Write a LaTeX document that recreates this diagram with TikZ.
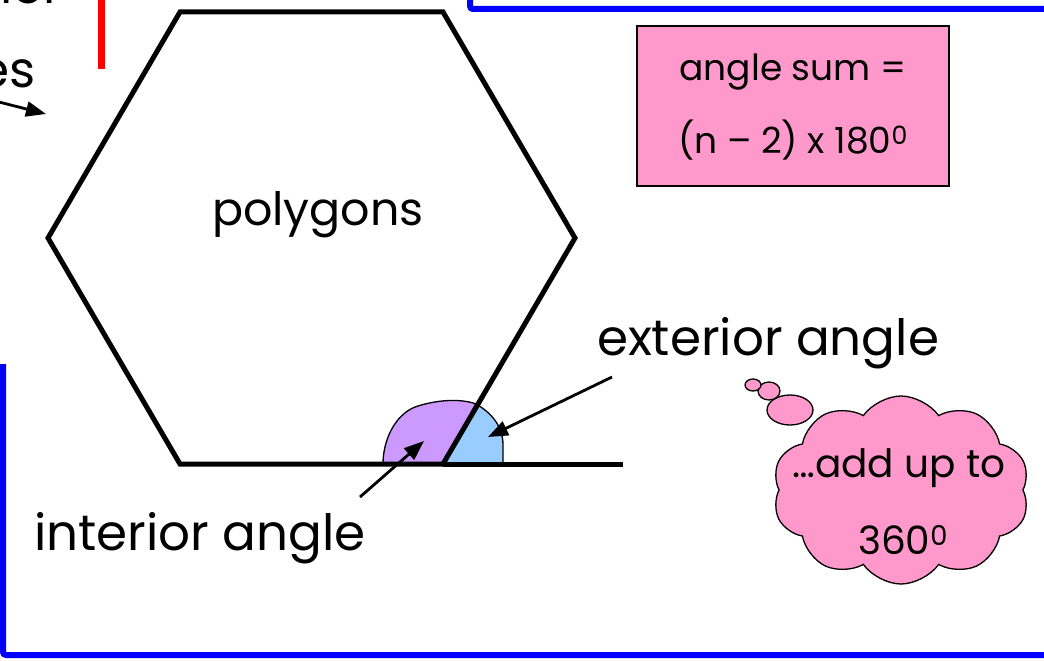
\documentclass[tikz,border=0pt]{standalone}
\usepackage{fontspec}
\setmainfont{Poppins}
\usetikzlibrary{arrows.meta,shapes.symbols}
\definecolor{slideblue}{RGB}{0,0,255}
\definecolor{boxpink}{RGB}{255,153,204}
\definecolor{intpurple}{RGB}{204,153,255}
\definecolor{extblue}{RGB}{153,204,255}
\begin{document}
\begin{tikzpicture}[x=1pt,y=-1pt,
  lbl/.style={font=\fontsize{50}{56}\selectfont, inner sep=0pt},
  polyfont/.style={font=\fontsize{46}{52}\selectfont, inner sep=0pt},
  small/.style={font=\fontsize{36}{42}\selectfont, inner sep=0pt},
  cloudtext/.style={font=\fontsize{39}{44}\selectfont, inner sep=0pt},
  edge/.style={line width=5pt, line join=miter},
  pointer/.style={line width=2.8pt, -{Triangle[length=20pt,width=15pt]}},
  border/.style={slideblue, line width=6pt, rounded corners=3pt},
  outline/.style={draw=black, line width=1.3pt}]
\useasboundingbox (0,0) rectangle (1044,661);
\begin{scope}
\clip (0,0) rectangle (1044,661);
% slide borders
\draw[border] (470,-10) -- (470,9) -- (1054,9);
\draw[border] (3,364) -- (3,655) -- (1054,655);
\draw[red, line width=7pt] (101,-10) -- (101,69);
% partial texts cut by the frame
\node[lbl, anchor=base east] (oth) at (62,4) {other};
\node[lbl, anchor=base east] (ang) at (36,88) {angles};
\coordinate (a0) at (-5,101);
\coordinate (a1) at (46,114);
\draw[pointer] (a0) -- (a1);
\end{scope}
% angle fills
\filldraw[fill=intpurple, outline] (383,464) .. controls (383,440) and (395,415) .. (415,407) .. controls (435,400) and (460,398) .. (476,404) -- (443,464) -- cycle;
\filldraw[fill=extblue, outline] (476,404) .. controls (490,412) and (503,425) .. (503,445) -- (503,464) -- (443,464) -- cycle;
% hexagon
\coordinate (h1) at (180,12);
\coordinate (h2) at (443,12);
\coordinate (h3) at (575,238);
\coordinate (h4) at (443,464);
\coordinate (h5) at (180,464);
\coordinate (h6) at (48,238);
\coordinate (ext) at (623,464);
\draw[edge] (h1) -- (h2) -- (h3) -- (h4) -- (h5) -- (h6) -- cycle;
\draw[edge] (h4) -- (ext);
\node[polyfont] (poly) at (318,215) {polygons};
% labels and pointers
\node[lbl] (extlbl) at (768,343) {exterior angle};
\node[lbl] (intlbl) at (200,538) {interior angle};
\coordinate (extS) at (612,377);
\coordinate (extT) at (488,437);
\coordinate (intS) at (360,497);
\coordinate (intT) at (424,441);
\draw[pointer] (extS) -- (extT);
\draw[pointer] (intS) -- (intT);
% angle sum box
\node[draw, fill=boxpink, line width=1.5pt, minimum width=312pt, minimum height=160pt, inner sep=0pt] (sum) at (793,106) {};
\node[small] (sum1) at (793,72) {angle sum =};
\node[small] (sum2) at (793,140) {(n – 2) x 180\textsuperscript{0}};
% thought cloud
\filldraw[fill=boxpink, outline] (790,410) ellipse (23 and 15);
\filldraw[fill=boxpink, outline] (769,391) ellipse (11 and 9);
\filldraw[fill=boxpink, outline] (753,385) ellipse (8 and 6);
\node[cloud, cloud puffs=10, cloud puff arc=110, fill=boxpink, outline, minimum width=257pt, minimum height=188pt] (cl) at (901,490) {};
\node[cloudtext] (cl1) at (899,468) {…add up to};
\node[cloudtext] (cl2) at (903,540) {360\textsuperscript{0}};
\end{tikzpicture}
\end{document}
